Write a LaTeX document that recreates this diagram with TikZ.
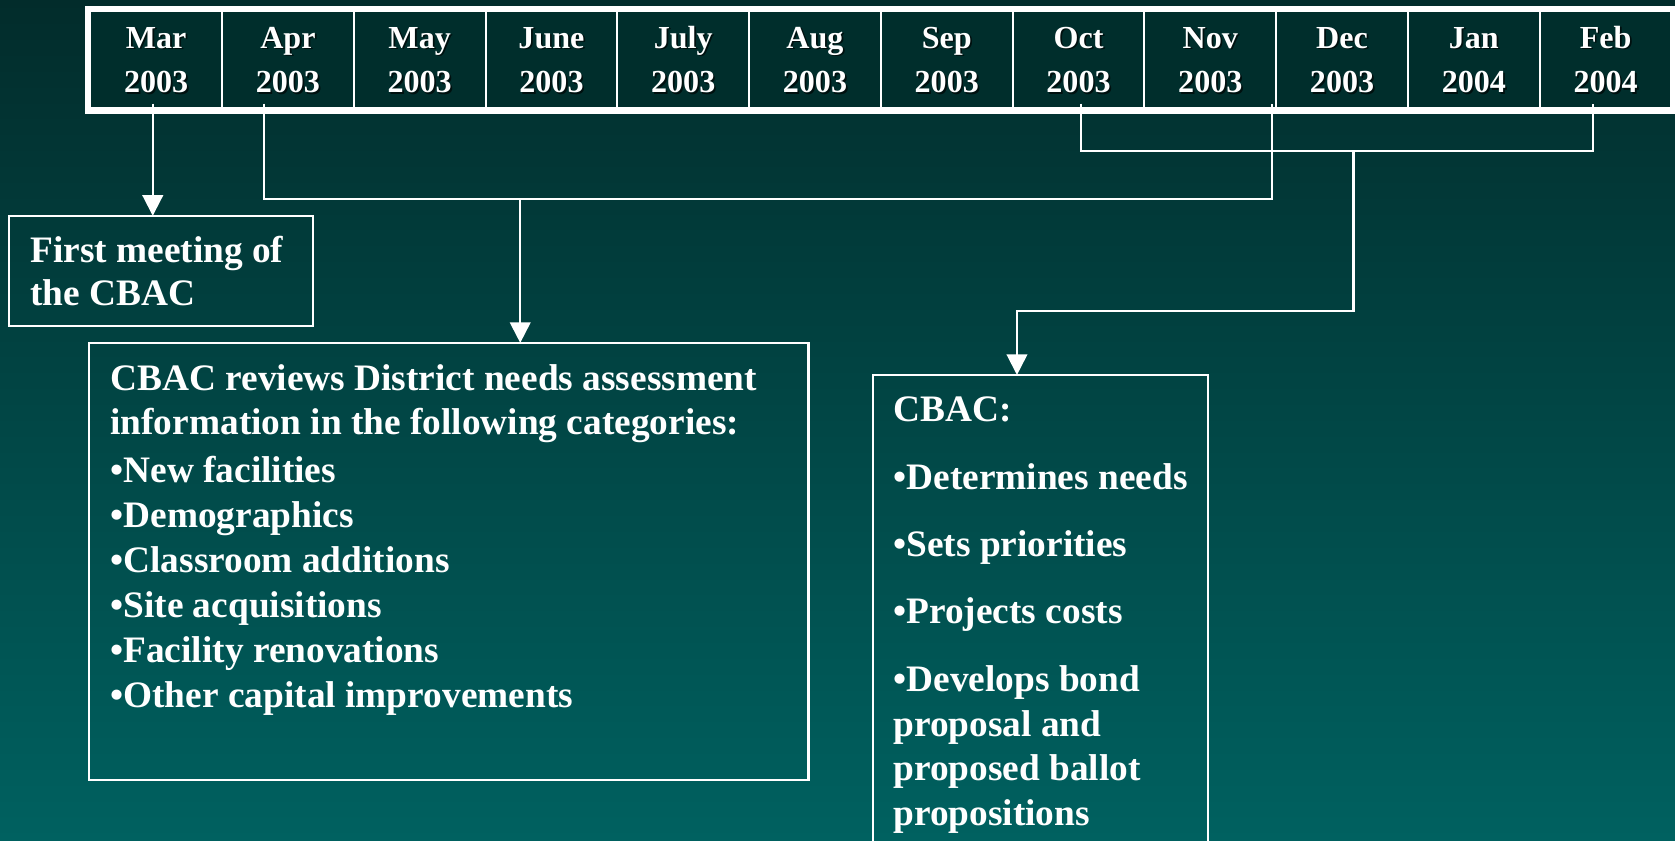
\documentclass[tikz,border=0pt]{standalone}
\usepackage{fontspec}
\setmainfont{Liberation Serif}
\usetikzlibrary{arrows.meta}
\definecolor{bgtop}{RGB}{2,44,43}
\definecolor{bgbot}{RGB}{0,97,96}
\definecolor{cellfill}{RGB}{0,46,44}
\begin{document}
\begin{tikzpicture}[x=0.02cm,y=-0.02cm,
  conn/.style={draw=white,line width=1.1pt},
  arr/.style={conn,-{Triangle[width=11pt,length=11pt]}},
  box/.style={draw=white,line width=1.1pt,anchor=north west,inner sep=0pt,outer sep=0pt},
  cellbox/.style={draw=white,line width=1.1pt,fill=cellfill,inner sep=0pt,outer sep=0pt,
    minimum width=2.467cm,minimum height=1.82cm},
  txt/.style={text=white,font=\bfseries\fontsize{19.9pt}{23.9pt}\selectfont,anchor=base west,inner sep=0pt},
  hdr/.style={text=white,font=\bfseries\fontsize{17.1pt}{20pt}\selectfont,anchor=base,inner sep=0pt},
  hdrsh/.style={hdr,text=black,text opacity=0.65}]
\useasboundingbox (0,0) rectangle (1568,787);
\clip (0,0) rectangle (1568,787);
\shade[top color=bgtop,bottom color=bgbot] (0,0) rectangle (1568,787);

% timeline
\foreach \m/\yr [count=\i] in {Mar/2003,Apr/2003,May/2003,June/2003,July/2003,Aug/2003,Sep/2003,Oct/2003,Nov/2003,Dec/2003,Jan/2004,Feb/2004}{
  \pgfmathsetmacro\cx{84.5+123.35*(\i-0.5)}
  \node[cellbox] (cell\i) at (\cx,56) {};
  \node[hdrsh] (ms\i) at (\cx+1.6,46.6) {\m};
  \node[hdrsh] (ys\i) at (\cx+1.6,88.6) {\yr};
  \node[hdr] (m\i) at (\cx,45) {\m};
  \node[hdr] (y\i) at (\cx,87) {\yr};
}
\draw[white,line width=2.85pt] ([shift={(-2.5,-2.5)}]cell1.north west) rectangle ([shift={(2.5,2.5)}]cell12.south east);

% boxes
\node[box,minimum width=5.7cm,minimum height=2.06cm] (first) at (8,202) {};
\node[box,minimum width=13.48cm,minimum height=8.18cm] (leftbox) at (83,321) {};
\node[box,minimum width=6.28cm,minimum height=9.6cm] (rightbox) at (817,351) {};

% connector points
\coordinate (marB) at (143,97);
\coordinate (aprB) at (247,97);
\coordinate (novB) at (1191,97);
\coordinate (octB) at (1012,97);
\coordinate (febB) at (1491,97);
\coordinate (aprnov) at (487,186);
\coordinate (octfeb) at (1267,141);
\coordinate (rbin) at (952,291);

\draw[arr] (marB) -- (first.north -| marB);
\draw[conn] (aprB) |- (aprnov) -| (novB);
\draw[arr] (aprnov) -- (leftbox.north -| aprnov);
\draw[conn] (octB) |- (octfeb) -| (febB);
\draw[arr] (octfeb) |- (rbin) -- (rightbox.north -| rbin);

% texts
\node[txt] (f1) at (28,246) {First meeting of};
\node[txt] (f2) at (28,286) {the CBAC};

\node[txt] (l1) at (103,366) {CBAC reviews District needs assessment};
\node[txt] (l2) at (103,407) {information in the following categories:};
\node[txt] (l3) at (103,452) {•New facilities};
\node[txt] (l4) at (103,494) {•Demographics};
\node[txt] (l5) at (103,536) {•Classroom additions};
\node[txt] (l6) at (103,578) {•Site acquisitions};
\node[txt] (l7) at (103,620) {•Facility renovations};
\node[txt] (l8) at (103,662) {•Other capital improvements};

\node[txt] (r1) at (836,395) {CBAC:};
\node[txt] (r2) at (836,458) {•Determines needs};
\node[txt] (r3) at (836,521) {•Sets priorities};
\node[txt] (r4) at (836,584) {•Projects costs};
\node[txt] (r5) at (836,647) {•Develops bond};
\node[txt] (r6) at (836,689) {proposal and};
\node[txt] (r7) at (836,731) {proposed ballot};
\node[txt] (r8) at (836,773) {propositions};
\end{tikzpicture}
\end{document}
